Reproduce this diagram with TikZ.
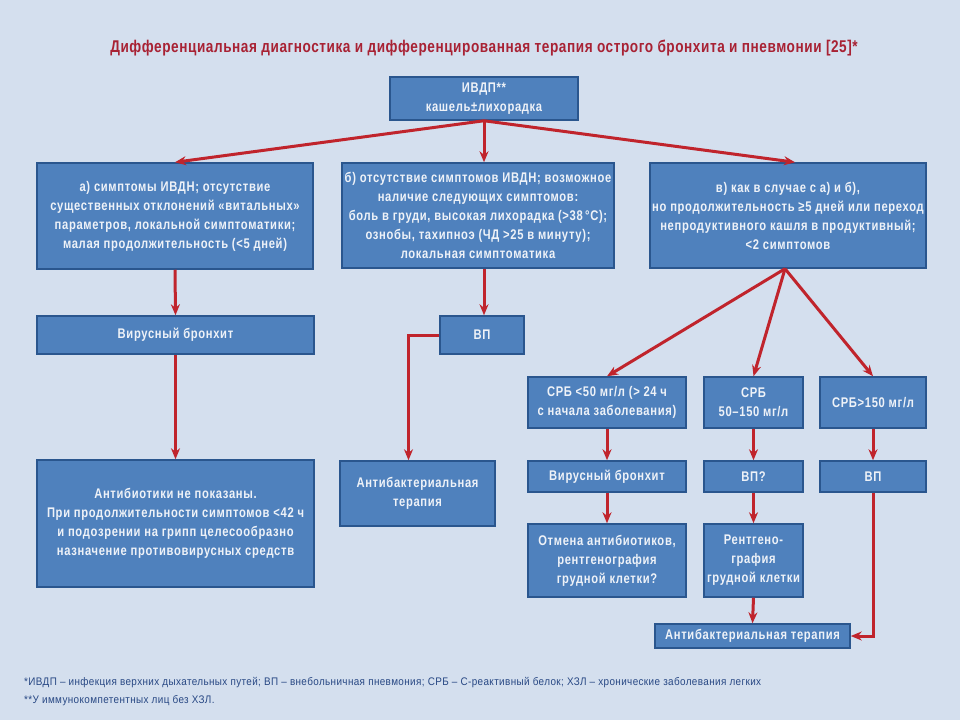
\documentclass[tikz,border=0pt]{standalone}
\usepackage{fontspec}
\setmainfont{Liberation Sans}[FakeStretch=0.8]
\newfontfamily\boxfont{Liberation Sans}[FakeStretch=0.8, LetterSpace=4.8]
\newfontfamily\titlefont{Liberation Sans}[FakeStretch=0.8, LetterSpace=3.3]
\newfontfamily\notefont{Liberation Sans}[FakeStretch=0.9, LetterSpace=3.5]
\usetikzlibrary{arrows.meta}
\definecolor{bg}{RGB}{212,223,238}
\definecolor{boxfill}{RGB}{79,129,189}
\definecolor{boxline}{RGB}{42,86,142}
\definecolor{boxtext}{RGB}{238,242,248}
\definecolor{arrowred}{RGB}{192,36,44}
\definecolor{titlered}{RGB}{168,34,52}
\definecolor{notetext}{RGB}{40,72,132}
\begin{document}
\begin{tikzpicture}[x=1pt,y=-1pt,
  box/.style={draw=boxline, line width=1.5pt, fill=boxfill, text=boxtext, align=center, inner sep=0pt,
    font=\boxfont\bfseries\fontsize{14}{19}\selectfont},
  arr/.style={draw=arrowred, line width=3pt, -{Stealth[length=11pt,width=9pt]}},
  note/.style={anchor=west, text=notetext, inner sep=0pt, font=\notefont\fontsize{11}{12}\selectfont}]
\fill[bg] (0,0) rectangle (960,720);
\useasboundingbox (0,0) rectangle (960,720);
\node[text=titlered, font=\titlefont\bfseries\fontsize{17}{18}\selectfont] (title) at (484,48)
  {Дифференциальная диагностика и дифференцированная терапия острого бронхита и пневмонии [25]*};
\node[box, minimum width=188pt, minimum height=43pt] (ivdp) at (484,98.5) {ИВДП**\\кашель±лихорадка};
\node[box, minimum width=276pt, minimum height=106pt] (boxa) at (175,216)
  {а) симптомы ИВДН; отсутствие\\существенных отклонений «витальных»\\параметров, локальной симптоматики;\\малая продолжительность (<5 дней)};
\node[box, minimum width=272pt, minimum height=105pt] (boxb) at (478,215.5)
  {б) отсутствие симптомов ИВДН; возможное\\наличие следующих симптомов:\\боль в груди, высокая лихорадка (>38\,°C);\\ознобы, тахипноэ (ЧД >25 в минуту);\\локальная симптоматика};
\node[box, minimum width=276pt, minimum height=105pt] (boxc) at (788,215.5)
  {в) как в случае с а) и б),\\но продолжительность ≥5 дней или переход\\непродуктивного кашля в продуктивный;\\<2 симптомов};
\node[box, minimum width=277pt, minimum height=38pt] (vb) at (175.5,335) {Вирусный бронхит};
\node[box, minimum width=84pt, minimum height=38pt] (vp) at (482,335) {ВП};
\node[box, minimum width=277pt, minimum height=127pt] (noab) at (175.5,523.5)
  {Антибиотики не показаны.\\При продолжительности симптомов <42 ч\\и подозрении на грипп целесообразно\\назначение противовирусных средств};
\node[box, minimum width=155pt, minimum height=65pt] (abt) at (417.5,493.5) {Антибактериальная\\терапия};
\node[box, minimum width=158pt, minimum height=51pt] (crpa) at (607,402.5) {СРБ <50 мг/л (> 24 ч\\с начала заболевания)};
\node[box, minimum width=99pt, minimum height=51pt] (crpb) at (753.5,402.5) {СРБ\\50–150 мг/л};
\node[box, minimum width=106pt, minimum height=51pt] (crpc) at (873,402.5) {СРБ>150 мг/л};
\node[box, minimum width=158pt, minimum height=31pt] (vbb) at (607,476.5) {Вирусный бронхит};
\node[box, minimum width=99pt, minimum height=31pt] (vpq) at (753.5,476.5) {ВП?};
\node[box, minimum width=106pt, minimum height=31pt] (vpc) at (873,476.5) {ВП};
\node[box, minimum width=158pt, minimum height=73pt] (cancel) at (607,560.5)
  {Отмена антибиотиков,\\рентгенография\\грудной клетки?};
\node[box, minimum width=99pt, minimum height=73pt] (xray) at (753.5,560.5) {Рентгено-\\графия\\грудной клетки};
\node[box, minimum width=195pt, minimum height=24pt] (abtb) at (752.5,636) {Антибактериальная терапия};
\draw[arr] (ivdp.south) -- (boxa.north);
\draw[arr] (ivdp.south) -- (ivdp.south |- boxb.north);
\draw[arr] (ivdp.south) -- ([xshift=7pt]boxc.north);
\draw[arr] (boxa.south) -- (vb.north);
\draw[arr] (vb.south) -- (noab.north);
\draw[arr] (ivdp.south |- boxb.south) -- (ivdp.south |- vp.north);
\draw[arr] (vp.west) -| ([xshift=-9pt]abt.north);
\draw[arr] ([xshift=-3pt]boxc.south) -- (crpa.north);
\draw[arr] ([xshift=-3pt]boxc.south) -- (crpb.north);
\draw[arr] ([xshift=-3pt]boxc.south) -- (crpc.north);
\draw[arr] (crpa.south) -- (vbb.north);
\draw[arr] (crpb.south) -- (vpq.north);
\draw[arr] (crpc.south) -- (vpc.north);
\draw[arr] (vbb.south) -- (cancel.north);
\draw[arr] (vpq.south) -- (xray.north);
\draw[arr] (xray.south) -- (abtb.north);
\draw[arr] (vpc.south) |- (abtb.east);
\node[note] (note1) at (24,683) {*ИВДП – инфекция верхних дыхательных путей; ВП – внебольничная пневмония; СРБ – С-реактивный белок; ХЗЛ – хронические заболевания легких};
\node[note] (note2) at (24,701) {**У иммунокомпетентных лиц без ХЗЛ.};
\end{tikzpicture}
\end{document}
